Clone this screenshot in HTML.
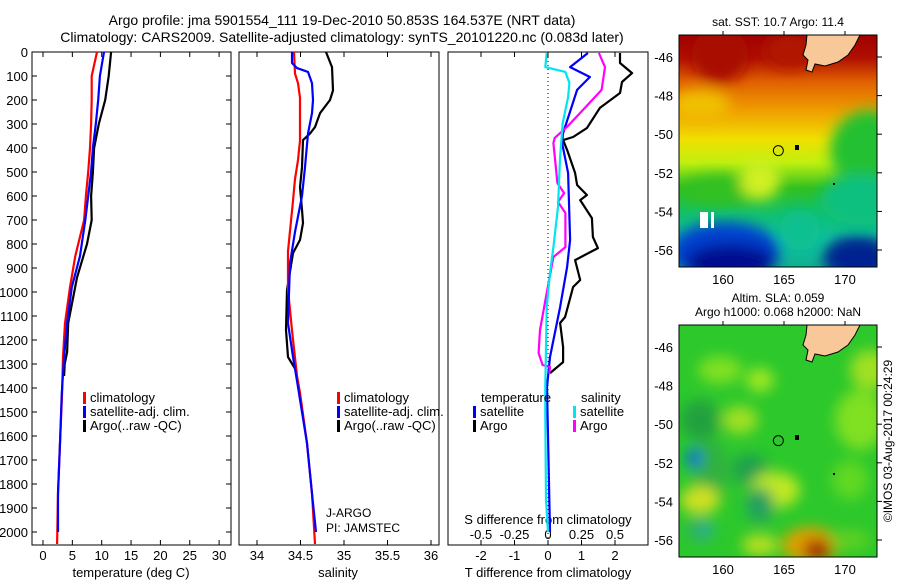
<!DOCTYPE html>
<html><head><meta charset="utf-8"><style>
html,body{margin:0;padding:0;background:#fff;}
svg{display:block;font-family:"Liberation Sans",sans-serif;}
text{fill:#000;}
</style></head><body>
<svg id="chart" width="900" height="580" viewBox="0 0 900 580" xmlns="http://www.w3.org/2000/svg">
<defs>
<filter id="blur" x="-20%" y="-20%" width="140%" height="140%"><feGaussianBlur stdDeviation="7"/></filter>
<clipPath id="clipM1"><rect x="679" y="35" width="198" height="232"/></clipPath>
<clipPath id="clipM2"><rect x="679" y="325" width="198" height="232"/></clipPath>
<linearGradient id="sstGrad" x1="0" y1="0" x2="0" y2="1">
<stop offset="0" stop-color="#a00000"/><stop offset="0.1" stop-color="#b01000"/>
<stop offset="0.2" stop-color="#e06000"/><stop offset="0.33" stop-color="#f0a000"/>
<stop offset="0.45" stop-color="#f0e000"/><stop offset="0.55" stop-color="#c0f010"/>
<stop offset="0.66" stop-color="#30c020"/><stop offset="0.78" stop-color="#10c070"/>
<stop offset="0.88" stop-color="#10c0a0"/><stop offset="1" stop-color="#10b090"/>
</linearGradient>
</defs>
<g id="titles">
<text x="342" y="25" font-size="14" text-anchor="middle">Argo profile: jma 5901554_111 19-Dec-2010 50.853S 164.537E (NRT data)</text>
<text x="342" y="42" font-size="14" text-anchor="middle">Climatology: CARS2009. Satellite-adjusted climatology: synTS_20101220.nc (0.083d later)</text>
<text x="778" y="26" font-size="12" text-anchor="middle">sat. SST: 10.7 Argo: 11.4</text>
<text x="778" y="302" font-size="12" text-anchor="middle">Altim. SLA: 0.059</text>
<text x="778" y="316" font-size="12" text-anchor="middle">Argo h1000: 0.068 h2000: NaN</text>
<text transform="translate(892,441) rotate(-90)" font-size="12" text-anchor="middle">©IMOS 03-Aug-2017 00:24:29</text>
</g>
<g id="maps"></g>
<g id="panels"></g>
</svg>
<script>
// depth axis
const depthTicks = [0,100,200,300,400,500,600,700,800,900,1000,1100,1200,1300,1400,1500,1600,1700,1800,1900,2000];
const tempTicks = [0,5,10,15,20,25,30];
const salTicks = [34,34.5,35,35.5,36];
const tdiffTicks = [-2,-1,0,1,2];
const sdiffTicks = [-0.5,-0.25,0,0.25,0.5];
const sdiffTickLabels = ["-0.5","-0.25","0","0.25","0.5"];
// temperature profiles
const tempClimDepth = [0,100,200,300,400,500,600,700,850,980,1130,1270,1420,1630,1840,2050];
const tempClim = [9.2,8.3,8.3,8.2,8.0,7.7,7.3,7.0,5.5,4.6,3.75,3.4,3.25,2.9,2.55,2.4];
const tempSatDepth = [0,100,200,300,400,500,600,700,850,980,1130,1270,1420,1630,1840,2000];
const tempSat = [10.4,9.7,9.4,9.0,8.5,8.2,7.7,7.2,6.3,4.9,4.1,3.6,3.2,2.9,2.55,2.55];
const tempArgoDepth = [0,100,200,300,400,500,600,700,800,940,1130,1250,1300,1350];
const tempArgo = [11.6,11.2,10.6,9.5,8.7,8.5,8.2,8.3,7.5,5.8,4.3,4.1,3.7,3.6];
// salinity profiles
const salClimDepth = [0,90,130,190,370,450,530,620,830,990,1160,1350,1420,1630,1840,2050];
const salClim = [34.425,34.437,34.471,34.494,34.494,34.471,34.437,34.414,34.356,34.356,34.402,34.46,34.494,34.575,34.632,34.667];
const salSatDepth = [0,46,67,83,130,200,255,340,480,600,750,880,1130,1270,1370,1630,1840,2000];
const salSat = [34.402,34.402,34.46,34.586,34.632,34.644,34.632,34.586,34.552,34.517,34.437,34.379,34.356,34.414,34.46,34.575,34.632,34.678];
const salArgoDepth = [0,63,160,200,255,313,340,367,480,563,658,713,783,838,992,1158,1271,1333];
const salArgo = [34.793,34.862,34.874,34.839,34.724,34.667,34.609,34.529,34.517,34.494,34.517,34.529,34.494,34.414,34.345,34.333,34.356,34.46];
// difference profiles
const tdArgoDepth = [4,46,88,125,171,233,317,354,367,408,504,554,596,617,692,771,817,867,950,979,1104,1129,1229,1292,1338];
const tdArgo = [2.15,2.15,2.51,2.21,2.15,1.55,1.16,0.75,0.45,0.57,0.81,0.87,1.16,0.96,1.31,1.34,1.49,0.81,0.96,0.75,0.51,0.36,0.45,0.45,0.06];
const tdSatDepth = [4,63,104,158,338,379,504,783,896,1063,1271,1396,1600,1800,2000];
const tdSat = [1.19,0.66,1.25,0.87,0.45,0.42,0.6,0.66,0.57,0.36,0.06,-0.03,0,0.03,0.06];
const sdArgoDepth = [4,63,158,242,313,358,379,546,588,625,671,813,854,1004,1158,1254,1304,1313,1340];
const sdArgo = [0.38,0.425,0.40,0.26,0.14,0.05,0.04,0.07,0.12,0.075,0.13,0.13,0.04,-0.01,-0.06,-0.07,-0.04,0.015,0.01];
const sdSatDepth = [4,63,83,129,188,296,438,646,813,921,1063,1396,1504,1867,2000];
const sdSat = [-0.01,-0.02,0.13,0.16,0.15,0.11,0.09,0.075,0.04,0.015,-0.01,-0.02,-0.02,-0.015,0];
// map axes
const lonTicks = [160,165,170];
const latTicks = [-46,-48,-50,-52,-54,-56];
const argoLon = 164.537;
const argoLat = -50.853;

const NS = "http://www.w3.org/2000/svg";
const yD = d => 52 + d*0.24;
const xT = t => 43 + 5.87*t;
const xS = s => 257 + 87*(s-34);
const xTd = t => 548 + 33.5*t;
const xSd = s => 548 + 134*s;
const xLon = l => 723 + 12.2*(l-160);
const yLat1 = la => 57 + 19.3*(-46-la);
const yLat2 = la => 347 + 19.3*(-46-la);

function mk(tag, attrs, parent){
  const e = document.createElementNS(NS, tag);
  for (const k in attrs) e.setAttribute(k, attrs[k]);
  parent.appendChild(e);
  return e;
}
const P = document.getElementById('panels');
const M = document.getElementById('maps');

function frame(x0,x1,name){
  const r = mk('rect',{x:x0,y:52,width:x1-x0,height:493,fill:'none',stroke:'#000','stroke-width':1},P);
  
  
}
frame(32,231,'temperature-panel');
frame(239,439,'salinity-panel');
frame(448,648,'difference-panel');

// y ticks & labels
depthTicks.forEach(d=>{
  const y = yD(d);
  mk('line',{x1:32,x2:37,y1:y,y2:y,stroke:'#000'},P);
  mk('line',{x1:226,x2:231,y1:y,y2:y,stroke:'#000'},P);
  const t = mk('text',{x:28,y:y+5,'font-size':13,'text-anchor':'end'},P);
  t.textContent = d;
  
  
});
function xticks(vals, fx, labels, ly, name){
  vals.forEach((v,i)=>{
    const x = fx(v);
    mk('line',{x1:x,x2:x,y1:52,y2:57,stroke:'#000'},P);
    mk('line',{x1:x,x2:x,y1:540,y2:545,stroke:'#000'},P);
    const t = mk('text',{x:x,y:ly,'font-size':13,'text-anchor':'middle'},P);
    t.textContent = labels ? labels[i] : v;
    
    
  });
}
xticks(tempTicks, xT, null, 560, 'temperature-tick-label');
xticks(salTicks, xS, null, 560, 'salinity-tick-label');
xticks(tdiffTicks, xTd, null, 560, 'tdiff-tick-label');
sdiffTicks.forEach((v,i)=>{
  const t = mk('text',{x:xSd(v),y:539,'font-size':13,'text-anchor':'middle'},P);
  t.textContent = sdiffTickLabels[i];
  
  
});
function label(x,y,txt,name,anchor,size){
  const t = mk('text',{x:x,y:y,'font-size':size||13,'text-anchor':anchor||'middle'},P);
  t.textContent = txt;
  
  
  return t;
}
label(131,577,'temperature (deg C)','temperature-axis-title');
label(338,577,'salinity','salinity-axis-title');
label(548,577,'T difference from climatology','tdiff-axis-title');
label(548,524,'S difference from climatology','sdiff-axis-title');
label(326,517,'J-ARGO','program-label','start',12);
label(326,532,'PI: JAMSTEC','pi-label','start',12);

// zero dotted line
const zl = mk('line',{x1:xTd(0),x2:xTd(0),y1:53,y2:544,stroke:'#000','stroke-dasharray':'1,3'},P);



function series(depths, vals, fx, color, name){
  const pts = depths.map((d,i)=> fx(vals[i]).toFixed(1)+','+yD(d).toFixed(1)).join(' ');
  const pl = mk('polyline',{points:pts,fill:'none',stroke:color,'stroke-width':2.2,'stroke-linejoin':'round'},P);
  
  
}
series(tempArgoDepth, tempArgo, xT, '#000', 'temp-argo-line');
series(tempClimDepth, tempClim, xT, '#ff0000', 'temp-climatology-line');
series(tempSatDepth, tempSat, xT, '#0000ff', 'temp-satellite-line');
series(salArgoDepth, salArgo, xS, '#000', 'sal-argo-line');
series(salClimDepth, salClim, xS, '#ff0000', 'sal-climatology-line');
series(salSatDepth, salSat, xS, '#0000ff', 'sal-satellite-line');
series(tdArgoDepth, tdArgo, xTd, '#000', 'tdiff-argo-line');
series(tdSatDepth, tdSat, xTd, '#0000ff', 'tdiff-satellite-line');
series(sdArgoDepth, sdArgo, xSd, '#ff00ff', 'sdiff-argo-line');
series(sdSatDepth, sdSat, xSd, '#00e5ee', 'sdiff-satellite-line');

function legendEntry(x,y,color,txt){
  const r = mk('rect',{x:x,y:y-10,width:3,height:12,fill:color},P);
  
  
  label(x+7,y,txt,'legend-entry','start',13);
}
[['#ff0000','climatology'],['#0000ff','satellite-adj. clim.'],['#000','Argo(..raw -QC)']].forEach((e,i)=>{
  legendEntry(83,402+14*i,e[0],e[1]);
  legendEntry(337,402+14*i,e[0],e[1]);
});
label(481,402,'temperature','legend-temperature-header','start',13);
label(581,402,'salinity','legend-salinity-header','start',13);
legendEntry(473,416,'#0000ff','satellite');
legendEntry(473,430,'#000','Argo');
legendEntry(573,416,'#00e5ee','satellite');
legendEntry(573,430,'#ff00ff','Argo');

// maps
function blob(g,cx,cy,rx,ry,c){ mk('ellipse',{cx:cx,cy:cy,rx:rx,ry:ry,fill:c},g); }
function land(g,top){
  const o = top-35;
  const p = mk('polygon',{points:[[807,35],[860,35],[855,45],[848,55],[838,62],[825,66],[815,64],[812,72],[806,70],[808,60],[803,55],[806,45]].map(a=>a[0]+','+(a[1]+o)).join(' '),fill:'#f8c898',stroke:'#000','stroke-width':1},g);
  
  
  mk('rect',{x:795,y:145+o,width:4,height:5,fill:'#000'},g);
  mk('rect',{x:833,y:183+o,width:2,height:2,fill:'#000'},g);
}
function mapAxes(top, yLat, name){
  const fr = mk('rect',{x:679,y:top,width:198,height:232,fill:'none',stroke:'#000'},M);
  
  
  const c = mk('circle',{cx:xLon(argoLon),cy:yLat(argoLat),r:5,fill:'none',stroke:'#000','stroke-width':1},M);
  
  
  latTicks.forEach(la=>{
    const y = yLat(la);
    mk('line',{x1:877,x2:882,y1:y,y2:y,stroke:'#000'},M);
    const t = mk('text',{x:673,y:y+5,'font-size':13,'text-anchor':'end'},M);
    t.textContent = la;
    
    
  });
  lonTicks.forEach(lo=>{
    const x = xLon(lo);
    mk('line',{x1:x,x2:x,y1:top-4,y2:top,stroke:'#000'},M);
    const t = mk('text',{x:x,y:top+249,'font-size':13,'text-anchor':'middle'},M);
    t.textContent = lo;
    
    
  });
}
// SST map
const g1 = mk('g',{'clip-path':'url(#clipM1)'},M);


mk('rect',{x:679,y:35,width:198,height:232,fill:'url(#sstGrad)'},g1);
const b1 = mk('g',{filter:'url(#blur)'},g1);
blob(b1,720,55,28,28,'#a81000');
blob(b1,790,50,25,18,'#b01800');
blob(b1,700,105,30,15,'#f0c000');
blob(b1,720,190,40,15,'#30c020');
blob(b1,760,180,20,20,'#d0f020');
blob(b1,870,150,40,40,'#20c030');
blob(b1,860,200,40,25,'#10c080');
blob(b1,725,252,55,30,'#0040d0');
blob(b1,730,262,45,18,'#001090');
blob(b1,858,258,35,22,'#002090');
blob(b1,800,230,20,20,'#10c090');
land(g1,35);
const wh = mk('rect',{x:700,y:212,width:8,height:16,fill:'#fff'},g1);
mk('rect',{x:711,y:212,width:3,height:16,fill:'#fff'},g1);
mapAxes(35, yLat1, 'sst-map-frame');
// SLA map
const g2 = mk('g',{'clip-path':'url(#clipM2)'},M);


mk('rect',{x:679,y:325,width:198,height:232,fill:'#2cc82c'},g2);
const b2 = mk('g',{filter:'url(#blur)'},g2);
blob(b2,720,370,22,14,'#80e020');
blob(b2,760,380,14,12,'#a0e820');
blob(b2,700,420,20,20,'#20a040');
blob(b2,740,420,18,14,'#a0e020');
blob(b2,710,470,18,30,'#30b040');
blob(b2,694,458,8,10,'#1080e0');
blob(b2,694,458,4,6,'#0040d0');
blob(b2,750,470,18,16,'#1ca050');
blob(b2,775,490,25,18,'#c0e820');
blob(b2,700,500,20,14,'#d0e020');
blob(b2,760,505,14,18,'#20a060');
blob(b2,700,530,14,12,'#30b060');
blob(b2,706,530,6,6,'#20b0b0');
blob(b2,860,420,25,30,'#80e020');
blob(b2,850,480,18,20,'#60d820');
blob(b2,870,370,20,20,'#a0e020');
blob(b2,810,545,28,18,'#e0a000');
blob(b2,817,550,14,10,'#a01000');
blob(b2,760,545,18,10,'#c0e020');
blob(b2,850,540,20,10,'#60d020');
land(g2,325);
mapAxes(325, yLat2, 'sla-map-frame');
</script>
</body></html>
